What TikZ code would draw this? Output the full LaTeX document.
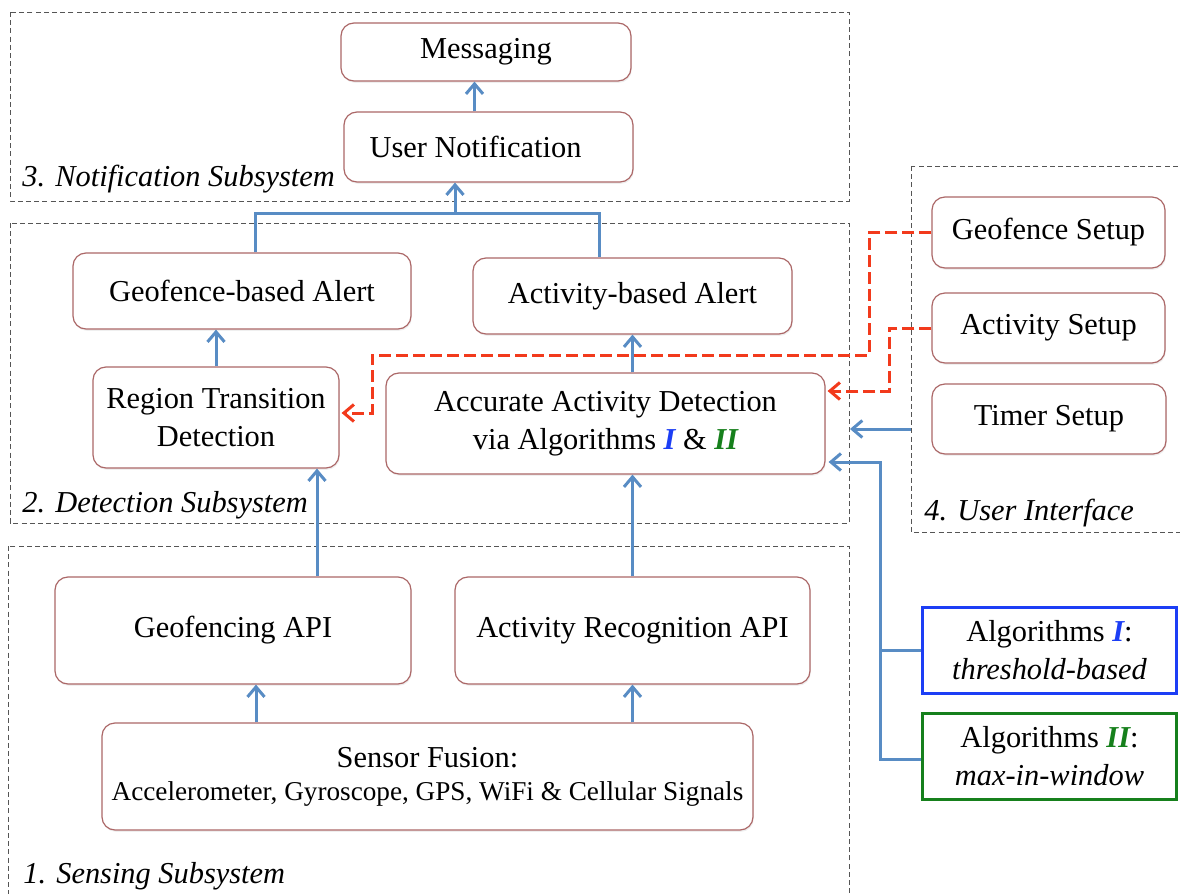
\documentclass[tikz,border=0pt]{standalone}
\usepackage{fontspec}
\setmainfont{Liberation Serif}
\usetikzlibrary{arrows.meta,shadows}
\definecolor{nodeborder}{RGB}{172,104,104}
\definecolor{conblue}{RGB}{88,140,196}
\definecolor{conred}{RGB}{242,58,28}
\definecolor{algblue}{RGB}{28,62,245}
\definecolor{alggreen}{RGB}{22,128,28}
\definecolor{framegray}{RGB}{85,85,85}
\newcommand\mainsz{\fontsize{15.2}{19}\selectfont}
\newcommand\smallsz{\fontsize{13.6}{16.5}\selectfont}
\begin{document}
\begin{tikzpicture}[x=0.5pt,y=-0.5pt,
  box/.style={draw=nodeborder, line width=0.6pt, rounded corners=6.5pt, fill=white,
    align=center, font=\mainsz, inner sep=0pt,
    drop shadow={shadow xshift=0.4pt, shadow yshift=-0.9pt, opacity=0.12}},
  algbox/.style={line width=1.2pt, fill=white, align=center, font=\mainsz, inner sep=0pt},
  container/.style={draw=framegray, line width=0.5pt, dash pattern=on 2.5pt off 1.6pt},
  lbl/.style={font=\mainsz\itshape, anchor=base west, inner sep=0pt},
  bline/.style={draw=conblue, line width=1.5pt},
  barrow/.style={bline, -{Straight Barb[length=5pt,width=8.5pt,line width=1.5pt]}},
  rarrow/.style={draw=conred, line width=1.5pt, dash pattern=on 6pt off 2.5pt,
    -{Straight Barb[length=5pt,width=8.5pt,line width=1.5pt]}}
]
\useasboundingbox (0,0) rectangle (1180,894);
\clip (0,0) rectangle (1180,894);
\fill[white] (0,0) rectangle (1180,894);

% containers
\draw[container] (10,12) rectangle (849,201);
\draw[container] (10,223) rectangle (849,523);
\draw[container] (8,546) rectangle (849,910);
\draw[container] (911,166) rectangle (1195,532);

% container labels
\node[lbl] (l3) at (22,186) {3. Notification Subsystem};
\node[lbl] (l2) at (22,512) {2. Detection Subsystem};
\node[lbl] (l1) at (23,883) {1. Sensing Subsystem};
\node[lbl] (l4) at (924,520) {4. User Interface};

% nodes
\node[box, minimum width=145pt, minimum height=29pt] (msg) at (486,52) {Messaging};
\node[box, minimum width=144.5pt, minimum height=35pt] (usr) at (488.5,147) {User Notification\hspace*{13pt}};
\node[box, minimum width=169pt, minimum height=38pt] (gfa) at (242,291) {Geofence-based Alert};
\node[box, minimum width=159.5pt, minimum height=38pt] (aba) at (632.5,296) {Activity-based Alert};
\node[box, minimum width=123pt, minimum height=50.5pt] (rtd) at (216,417.5) {Region Transition\\Detection};
\node[box, minimum width=219.5pt, minimum height=50.5pt] (aad) at (605.5,423.5)
  {Accurate Activity Detection\\via Algorithms \textcolor{algblue}{\bfseries\itshape I} \& \textcolor{alggreen}{\bfseries\itshape II}};
\node[box, minimum width=178pt, minimum height=53.5pt] (gapi) at (233,630.5) {Geofencing API};
\node[box, minimum width=177.5pt, minimum height=53.5pt] (arapi) at (632.5,630.5) {Activity Recognition API};
\node[box, minimum width=325.5pt, minimum height=53.5pt, font=\fontsize{15.2}{16.5}\selectfont] (sf) at (427.5,776.5)
  {Sensor Fusion:\\{\smallsz Accelerometer, Gyroscope, GPS, WiFi \& Cellular Signals}};
\node[box, minimum width=116.5pt, minimum height=35.5pt] (gs) at (1048.5,232.5) {Geofence Setup};
\node[box, minimum width=116.5pt, minimum height=35pt] (as) at (1048.5,328) {Activity Setup};
\node[box, minimum width=117pt, minimum height=35pt] (ts) at (1049,419) {Timer Setup};
\node[algbox, draw=algblue, minimum width=127pt, minimum height=43pt] (alg1) at (1049.5,650.5)
  {Algorithms \textcolor{algblue}{\bfseries\itshape I}:\\\itshape threshold-based};
\node[algbox, draw=alggreen, minimum width=127pt, minimum height=43pt] (alg2) at (1049.5,756.5)
  {Algorithms \textcolor{alggreen}{\bfseries\itshape II}:\\\itshape max-in-window};

% junction coordinates
\coordinate (jt) at (455,213);
\coordinate (tsrc) at (911,429);
\coordinate (tdst) at (850,429);
\coordinate (abus) at (880,462);
\coordinate (r1a) at (869,355);
\coordinate (r1b) at (372,413);
\coordinate (r2a) at (889,391);

% blue connectors
\draw[barrow] ([xshift=-7pt]usr.north) -- ([xshift=-7pt]usr.north |- msg.south);
\draw[bline] ([xshift=6.5pt]gfa.north) |- (jt) -| ([xshift=-16.75pt]aba.north);
\draw[barrow] (jt) -- (jt |- usr.south);
\draw[barrow] (rtd.north) -- (rtd.north |- gfa.south);
\draw[barrow] (aba.south |- aad.north) -- (aba.south);
\draw[barrow] ([xshift=42pt]gapi.north) -- ([xshift=42pt]gapi.north |- rtd.south);
\draw[barrow] (arapi.north) -- (arapi.north |- aad.south);
\draw[barrow] ([xshift=11.5pt]gapi.south |- sf.north) -- ([xshift=11.5pt]gapi.south);
\draw[barrow] (arapi.south |- sf.north) -- (arapi.south);
\draw[barrow] (tsrc) -- (tdst);
\draw[barrow] ([yshift=-1.5pt]alg2.west) -| (abus) -- ([xshift=1.5pt]abus -| aad.east);
\draw[bline] (alg1.west) -- (alg1.west -| abus);

% red dashed connectors
\draw[rarrow] (gs.west) -| (r1a) -| (r1b) -- ([xshift=1pt]r1b -| rtd.east);
\draw[rarrow] (as.west) -| (r2a) -- ([xshift=1pt]r2a -| aad.east);
\end{tikzpicture}
\end{document}
